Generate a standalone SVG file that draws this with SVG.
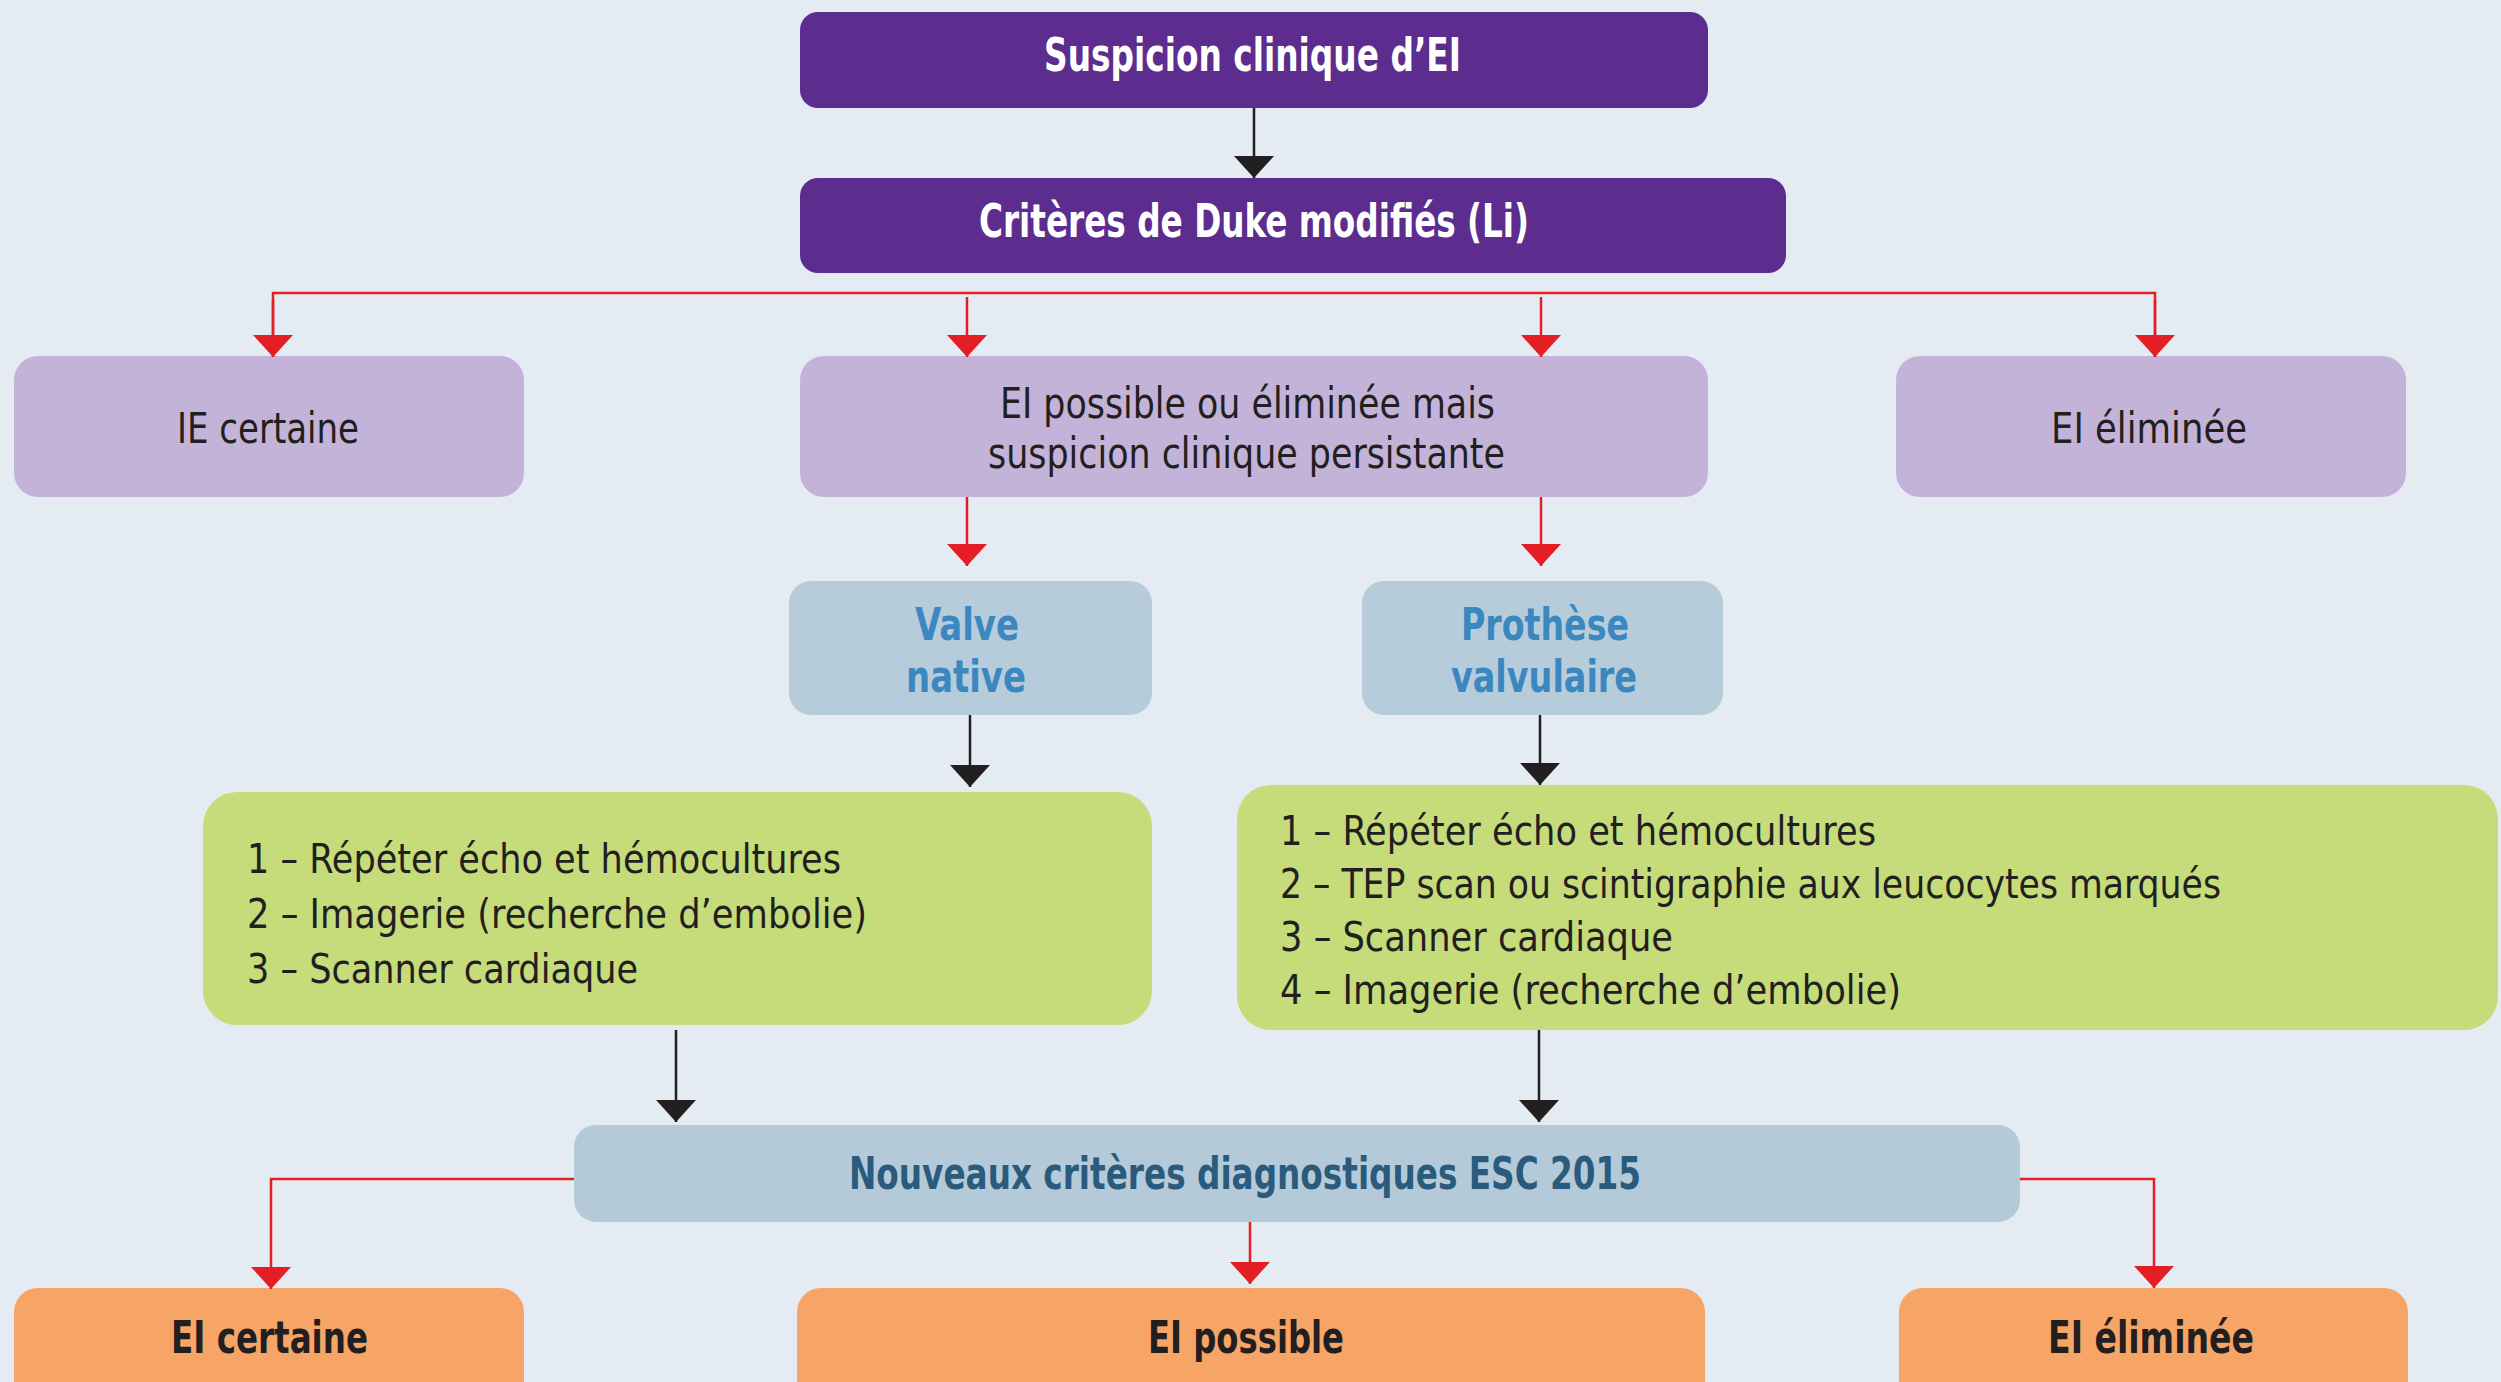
<svg xmlns="http://www.w3.org/2000/svg" width="2501" height="1382" viewBox="0 0 2501 1382">
<defs>
<style>
text{font-family:"Liberation Sans Narrow","DejaVu Sans Condensed","Liberation Sans",sans-serif;}
.w{fill:#ffffff;font-size:46px;font-weight:bold;}
.d{fill:#231f20;font-size:42px;}
.db{fill:#231f20;font-size:44px;font-weight:bold;}
.b{fill:#3b87bf;font-size:44px;font-weight:bold;}
.nb{fill:#2a5b7d;font-size:44px;font-weight:bold;}
.g{fill:#231f20;font-size:41px;}
.red{stroke:#e31e24;stroke-width:2.5;fill:none;}
.blk{stroke:#231f20;stroke-width:2.5;fill:none;}
</style>
<marker id="ar" viewBox="0 0 22 40" refX="22" refY="20" markerWidth="22" markerHeight="40" markerUnits="userSpaceOnUse" orient="auto">
<path d="M0,0 L22,20 L0,40 Z" fill="#e31e24"/>
</marker>
<marker id="ab" viewBox="0 0 22 40" refX="22" refY="20" markerWidth="22" markerHeight="40" markerUnits="userSpaceOnUse" orient="auto">
<path d="M0,0 L22,20 L0,40 Z" fill="#231f20"/>
</marker>
</defs>
<rect x="0" y="0" width="2501" height="1382" fill="#e4ebf2"/>

<g id="n-suspicion">
<rect x="800" y="12" width="908" height="96" rx="18" fill="#5c2d8f"/>
<text class="w" x="1044" y="71" textLength="417" lengthAdjust="spacingAndGlyphs">Suspicion clinique d’EI</text>
</g>
<g id="n-duke">
<rect x="800" y="178" width="986" height="95" rx="18" fill="#5c2d8f"/>
<text class="w" x="979" y="237" textLength="550" lengthAdjust="spacingAndGlyphs">Critères de Duke modifiés (Li)</text>
</g>
<g id="n-ie-certaine">
<rect x="14" y="356" width="510" height="141" rx="24" fill="#c4b3d8"/>
<text class="d" x="177" y="443" textLength="182" lengthAdjust="spacingAndGlyphs">IE certaine</text>
</g>
<g id="n-ei-possible-persist">
<rect x="800" y="356" width="908" height="141" rx="24" fill="#c4b3d8"/>
<text class="d" x="1000" y="418" textLength="495" lengthAdjust="spacingAndGlyphs">EI possible ou éliminée mais</text>
<text class="d" x="988" y="468" textLength="517" lengthAdjust="spacingAndGlyphs">suspicion clinique persistante</text>
</g>
<g id="n-ei-eliminee-1">
<rect x="1896" y="356" width="510" height="141" rx="24" fill="#c4b3d8"/>
<text class="d" x="2051" y="443" textLength="196" lengthAdjust="spacingAndGlyphs">EI éliminée</text>
</g>
<g id="n-valve-native">
<rect x="789" y="581" width="363" height="134" rx="22" fill="#b7ccdb"/>
<text class="b" x="915" y="640" textLength="104" lengthAdjust="spacingAndGlyphs">Valve</text>
<text class="b" x="906" y="692" textLength="120" lengthAdjust="spacingAndGlyphs">native</text>
</g>
<g id="n-prothese">
<rect x="1362" y="581" width="361" height="134" rx="22" fill="#b7ccdb"/>
<text class="b" x="1461" y="640" textLength="168" lengthAdjust="spacingAndGlyphs">Prothèse</text>
<text class="b" x="1451" y="692" textLength="186" lengthAdjust="spacingAndGlyphs">valvulaire</text>
</g>
<g id="n-green-native">
<rect x="203" y="792" width="949" height="233" rx="34" fill="#c6dc7b"/>
<text class="g" x="247" y="873" textLength="594" lengthAdjust="spacingAndGlyphs">1 – Répéter écho et hémocultures</text>
<text class="g" x="247" y="928" textLength="620" lengthAdjust="spacingAndGlyphs">2 – Imagerie (recherche d’embolie)</text>
<text class="g" x="247" y="983" textLength="391" lengthAdjust="spacingAndGlyphs">3 – Scanner cardiaque</text>
</g>
<g id="n-green-prothese">
<rect x="1237" y="785" width="1261" height="245" rx="34" fill="#c6dc7b"/>
<text class="g" x="1280" y="845" textLength="596" lengthAdjust="spacingAndGlyphs">1 – Répéter écho et hémocultures</text>
<text class="g" x="1280" y="898" textLength="941" lengthAdjust="spacingAndGlyphs">2 – TEP scan ou scintigraphie aux leucocytes marqués</text>
<text class="g" x="1280" y="951" textLength="393" lengthAdjust="spacingAndGlyphs">3 – Scanner cardiaque</text>
<text class="g" x="1280" y="1004" textLength="621" lengthAdjust="spacingAndGlyphs">4 – Imagerie (recherche d’embolie)</text>
</g>
<g id="n-esc2015">
<rect x="574" y="1125" width="1446" height="97" rx="22" fill="#b5cad9"/>
<text class="nb" x="849" y="1189" textLength="792" lengthAdjust="spacingAndGlyphs">Nouveaux critères diagnostiques ESC 2015</text>
</g>
<g id="n-ei-certaine">
<rect x="14" y="1288" width="510" height="130" rx="24" fill="#f7a566"/>
<text class="db" x="171" y="1353" textLength="197" lengthAdjust="spacingAndGlyphs">EI certaine</text>
</g>
<g id="n-ei-possible">
<rect x="797" y="1288" width="908" height="130" rx="24" fill="#f7a566"/>
<text class="db" x="1148" y="1353" textLength="196" lengthAdjust="spacingAndGlyphs">EI possible</text>
</g>
<g id="n-ei-eliminee-2">
<rect x="1899" y="1288" width="509" height="130" rx="24" fill="#f7a566"/>
<text class="db" x="2048" y="1353" textLength="206" lengthAdjust="spacingAndGlyphs">EI éliminée</text>
</g>

<g id="connectors">
<path class="blk" d="M1254,108 L1254,178" marker-end="url(#ab)"/>
<path class="red" d="M273,357 L273,293 L2155,293 L2155,357"/>
<path class="red" d="M273,300 L273,357" marker-end="url(#ar)"/>
<path class="red" d="M2155,300 L2155,357" marker-end="url(#ar)"/>
<path class="red" d="M967,297 L967,357" marker-end="url(#ar)"/>
<path class="red" d="M1541,297 L1541,357" marker-end="url(#ar)"/>
<path class="red" d="M967,497 L967,566" marker-end="url(#ar)"/>
<path class="red" d="M1541,497 L1541,566" marker-end="url(#ar)"/>
<path class="blk" d="M970,715 L970,787" marker-end="url(#ab)"/>
<path class="blk" d="M1540,715 L1540,785" marker-end="url(#ab)"/>
<path class="blk" d="M676,1030 L676,1122" marker-end="url(#ab)"/>
<path class="blk" d="M1539,1030 L1539,1122" marker-end="url(#ab)"/>
<path class="red" d="M574,1179 L271,1179 L271,1289" marker-end="url(#ar)"/>
<path class="red" d="M1250,1222 L1250,1284" marker-end="url(#ar)"/>
<path class="red" d="M2020,1179 L2154,1179 L2154,1288" marker-end="url(#ar)"/>
</g>
</svg>
